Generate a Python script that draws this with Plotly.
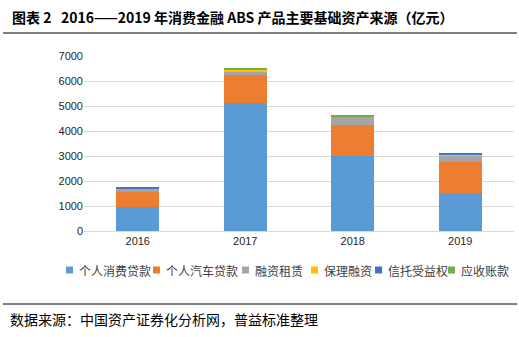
import plotly.graph_objects as go

years = ["2016", "2017", "2018", "2019"]
series_names = ["个人消费贷款", "个人汽车贷款", "融资租赁", "保理融资", "信托受益权", "应收账款"]
consumer = [970, 5110, 3000, 1520]
auto = [580, 1130, 1240, 1240]
leasing = [130, 150, 320, 250]
factoring = [0, 50, 0, 25]
trust = [80, 10, 0, 80]
receivable = [0, 40, 80, 0]
colors = ["#5B9BD5", "#ED7D31", "#A5A5A5", "#FFC000", "#4472C4", "#70AD47"]

W, H = 519, 337
L, R, T, B = 84, 5, 56, 106
pw, ph = W - L - R, H - T - B

def px(x):
    return (x - L) / pw

def py(y):
    return (H - B - y) / ph

fig = go.Figure()
for name, vals, c in zip(series_names, [consumer, auto, leasing, factoring, trust, receivable], colors):
    fig.add_trace(go.Bar(x=years, y=vals, name=name, marker=dict(color=c, line=dict(width=0)),
                         showlegend=False))

fig.update_layout(
    width=W, height=H,
    margin=dict(l=L, r=R, t=T, b=B),
    barmode="stack", bargap=0.6,
    plot_bgcolor="white", paper_bgcolor="white",
    font=dict(family="Liberation Sans, Arial, sans-serif", size=11, color="#404040"),
    xaxis=dict(showline=True, linecolor="#D9D9D9", linewidth=1, ticks="", tickfont=dict(size=11, color="#262626")),
    yaxis=dict(range=[0, 7000], dtick=1000, showgrid=True, gridcolor="#D9D9D9", gridwidth=1,
               zeroline=False, ticks="", tickfont=dict(size=11, color="#262626")),
    showlegend=False,
)

# manual legend (Excel-style compact)
legend_x = [66, 153, 242, 311, 375, 448]
ly = 270
for name, c, lx in zip(series_names, colors, legend_x):
    fig.add_shape(type="rect", xref="paper", yref="paper",
                  x0=px(lx), x1=px(lx + 7), y0=py(ly + 3.5), y1=py(ly - 3.5),
                  fillcolor=c, line=dict(width=0))
    fig.add_annotation(text=name, xref="paper", yref="paper", x=px(lx + 11), y=py(ly),
                       xanchor="left", yanchor="middle", showarrow=False,
                       font=dict(family="Noto Sans CJK SC", size=12, color="#404040"))

fig.add_annotation(text="<b>图表 2&nbsp;&nbsp;&nbsp;2016——2019 年消费金融 ABS 产品主要基础资产来源（亿元）</b>",
                   xref="paper", yref="paper", x=px(10), y=py(17), xanchor="left", yanchor="middle",
                   showarrow=False, font=dict(family="Noto Sans CJK SC", size=14, color="#000000"))
fig.add_annotation(text="数据来源：中国资产证券化分析网，普益标准整理",
                   xref="paper", yref="paper", x=px(8), y=py(319), xanchor="left", yanchor="middle",
                   showarrow=False, font=dict(family="Noto Sans CJK SC", size=14, color="#000000"))
for yy in (33, 304):
    fig.add_shape(type="line", xref="paper", yref="paper", x0=px(3), x1=px(517), y0=py(yy), y1=py(yy),
                  line=dict(color="#000000", width=1))

fig.write_html("out.html")
